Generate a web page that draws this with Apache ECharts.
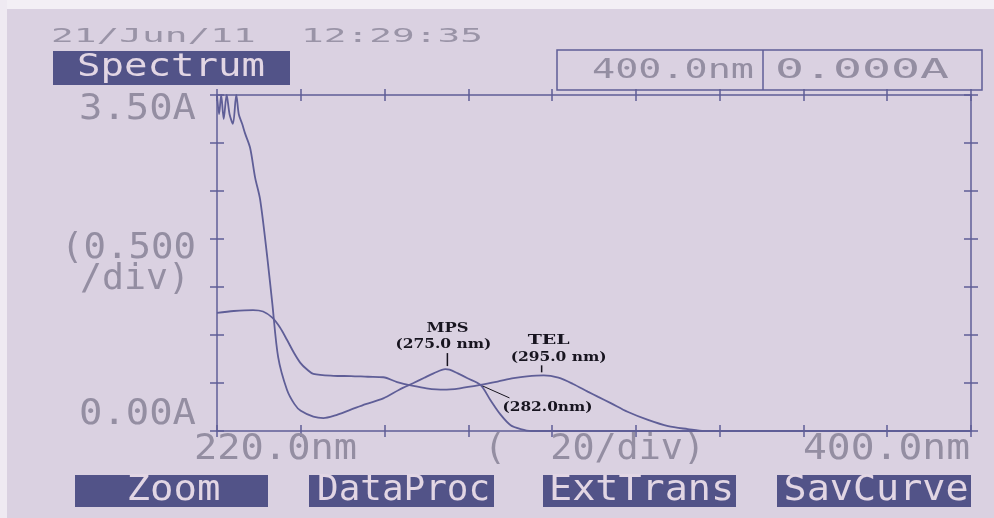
<!DOCTYPE html>
<html>
<head>
<meta charset="utf-8">
<title>Spectrum</title>
<script src="https://cdn.jsdelivr.net/npm/echarts@6/dist/echarts.min.js"></script>
<style>
html, body { margin: 0; padding: 0; background: #fff; }
#chart { width: 994px; height: 518px; }
</style>
</head>
<body>
<div id="chart"></div>
<script>
// overlay spectra (wavelength nm / absorbance A)
const mpsNm = [220, 220.5, 221, 221.6, 222.3, 223, 223.8, 224.6, 225.2, 226, 226.7, 227.9, 229.1, 230.3, 232.0, 233.2, 234.6, 236.7, 238.5, 240, 243, 245.4, 248, 251.8, 255.5, 259.7, 263.5, 266.9, 269.5, 271.7, 274.5, 275.5, 277.5, 279.8, 282.9, 285.3, 287.7, 290.1, 292.5, 295, 400];
const mpsAbs = [3.5, 3.3, 3.5, 3.25, 3.5, 3.3, 3.2, 3.5, 3.3, 3.2, 3.1, 2.95, 2.64, 2.41, 1.81, 1.33, 0.77, 0.43, 0.28, 0.21, 0.15, 0.135, 0.16, 0.22, 0.28, 0.34, 0.43, 0.5, 0.555, 0.6, 0.645, 0.64, 0.6, 0.55, 0.48, 0.32, 0.17, 0.06, 0.02, 0, 0];
const telNm = [220, 224, 228.6, 231, 233.2, 235, 236.7, 238.3, 239.9, 241.5, 243, 247.8, 252, 256, 259.7, 263, 266.9, 270, 274.1, 278, 282.9, 287, 290.8, 294, 298, 301.5, 305, 308.5, 311, 314, 318, 322.9, 327.7, 332.4, 336.3, 400];
const telAbs = [1.23, 1.25, 1.26, 1.245, 1.18, 1.08, 0.95, 0.82, 0.71, 0.64, 0.595, 0.575, 0.572, 0.565, 0.56, 0.51, 0.47, 0.445, 0.43, 0.445, 0.48, 0.515, 0.55, 0.57, 0.58, 0.555, 0.49, 0.41, 0.355, 0.29, 0.2, 0.115, 0.05, 0.02, 0, 0];

// printer texts
const stamp = '21/Jun/11  12:29:35';
const modeName = 'Spectrum';
const readout = ['400.0nm', '0.000A'];
const yTickLabels = ['3.50A', '(0.500', '/div)', '0.00A'];
const xTickLabels = ['220.0nm', '(  20/div)', '400.0nm'];
const menuKeys = ['Zoom', 'DataProc', 'ExtTrans', 'SavCurve'];

// peak / crossing notes
const noteNames = ['MPS', 'TEL'];
const noteTexts = ['(275.0 nm)', '(295.0 nm)'];
const notePeakNm = [275, 297.5];
const notePeakAbs = [0.645, 0.58];
const crossText = '(282.0nm)';
const crossAt = [282.9, 0.48];

const ink = '#5f5e97';
const dotInk = '#948ea2';
const boxInk = '#525388';
const boxText = '#e2d6e4';
const paper = '#dad1e1';
const mono = 'DejaVu Sans Mono';
const serif = 'DejaVu Serif';

const mctx = document.createElement('canvas').getContext('2d');
// text stretched to the width it has on the printout
function label(str, x, y, width, size, opt) {
	opt = opt || {};
	let weight = opt.weight || 'normal';
	let family = opt.family || mono;
	mctx.font = weight + ' ' + size + 'px "' + family + '"';
	let sx = width ? width / mctx.measureText(str).width : 1;
	return {
		type: 'text', x: x, y: y, scaleX: sx, silent: true, z: 10,
		style: {
			text: str, x: 0, y: 0, fill: opt.color || dotInk,
			fontSize: size, fontFamily: family, fontWeight: weight,
			align: opt.align || 'left', verticalAlign: 'middle'
		}
	};
}

function xAx(pos, inside, line) {
	return {
		type: 'value', position: pos, min: 220, max: 400, interval: 20,
		axisLine: { show: line, onZero: false, lineStyle: { color: ink, width: 1.5 } },
		axisTick: { show: true, inside: inside, length: 6, lineStyle: { color: ink, width: 1.5 } },
		axisLabel: { show: false }, splitLine: { show: false }
	};
}
function yAx(pos, inside, line) {
	return {
		type: 'value', position: pos, min: 0, max: 3.5, interval: 0.5,
		axisLine: { show: line, onZero: false, lineStyle: { color: ink, width: 1.5 } },
		axisTick: { show: true, inside: inside, length: 7, lineStyle: { color: ink, width: 1.5 } },
		axisLabel: { show: false }, splitLine: { show: false }
	};
}

let chrome = [
	{ type: 'rect', shape: { x: 0, y: 0, width: 994, height: 9 }, style: { fill: '#f3eff5' }, silent: true },
	{ type: 'rect', shape: { x: 0, y: 0, width: 7, height: 518 }, style: { fill: '#efeaf2' }, silent: true },
	label(stamp, 51, 37, 432, 19, { color: '#9a94a7' }),
	{ type: 'rect', shape: { x: 53, y: 51, width: 237, height: 34 }, style: { fill: boxInk }, silent: true },
	label(modeName, 77, 68, 188, 32, { color: boxText }),
	{ type: 'rect', shape: { x: 557, y: 50, width: 425, height: 40 }, style: { fill: 'none', stroke: ink, lineWidth: 1.5 }, silent: true },
	{ type: 'line', shape: { x1: 763, y1: 50, x2: 763, y2: 90 }, style: { stroke: ink, lineWidth: 1.5 }, silent: true },
	label(readout[0], 592, 71, 162, 27),
	label(readout[1], 775, 71, 174, 27),
	label(yTickLabels[0], 196, 110, 117, 36, { align: 'right' }),
	label(yTickLabels[1], 196, 249, 135, 36, { align: 'right' }),
	label(yTickLabels[2], 190, 280, 110, 36, { align: 'right' }),
	label(yTickLabels[3], 196, 415, 117, 36, { align: 'right' }),
	label(xTickLabels[0], 194, 450, 163, 36),
	label(xTickLabels[1], 705, 450, 221, 36, { align: 'right' }),
	label(xTickLabels[2], 970, 450, 167, 36, { align: 'right' })
];

const menuBox = [[75, 193], [309, 185], [543, 193], [777, 194]];
const menuTextW = [94, 173, 185, 185];
menuKeys.forEach(function (k, i) {
	let b = menuBox[i];
	chrome.push({ type: 'rect', shape: { x: b[0], y: 475, width: b[1], height: 32 }, style: { fill: boxInk }, silent: true });
	chrome.push(label(k, b[0] + b[1] / 2 + 2, 491, menuTextW[i], 36, { color: boxText, align: 'center' }));
});

let chart = echarts.init(document.getElementById('chart'));
let option = {
	animation: false,
	backgroundColor: paper,
	grid: { left: 217, right: 23, top: 95, bottom: 87 },
	xAxis: [xAx('bottom', false, true), xAx('bottom', true, false), xAx('top', false, true), xAx('top', true, false)],
	yAxis: [yAx('left', false, true), yAx('left', true, false), yAx('right', false, true), yAx('right', true, false)],
	series: [{
		name: 'MPS', type: 'line', smooth: 0.3, symbol: 'none', clip: true,
		lineStyle: { color: ink, width: 1.8 },
		data: mpsNm.map(function (w, i) { return [w, mpsAbs[i]]; })
	}, {
		name: 'TEL', type: 'line', smooth: 0.3, symbol: 'none', clip: true,
		lineStyle: { color: ink, width: 1.8 },
		data: telNm.map(function (w, i) { return [w, telAbs[i]]; })
	}],
	graphic: chrome
};
chart.setOption(option);

// notes placed from the data positions
const noteInk = '#17141f';
const noteDx = [[0, -4], [7, 17]];
const noteDy = [[-40, -24, -16], [-35, -18, -10]];
noteNames.forEach(function (n, i) {
	let p = chart.convertToPixel({ gridIndex: 0 }, [notePeakNm[i], notePeakAbs[i]]);
	chrome.push(label(n, p[0] + noteDx[i][0], p[1] + noteDy[i][0], n.length * 14, 13, { family: serif, weight: 'bold', color: noteInk, align: 'center' }));
	chrome.push(label(noteTexts[i], p[0] + noteDx[i][1], p[1] + noteDy[i][1], 96, 13, { family: serif, weight: 'bold', color: noteInk, align: 'center' }));
	chrome.push({ type: 'line', z: 10, silent: true, shape: { x1: p[0], y1: p[1] + noteDy[i][2], x2: p[0], y2: p[1] - 3 }, style: { stroke: noteInk, lineWidth: 1.5 } });
});
let c = chart.convertToPixel({ gridIndex: 0 }, crossAt);
chrome.push({ type: 'line', z: 10, silent: true, shape: { x1: c[0] + 2, y1: c[1] + 1, x2: c[0] + 29, y2: c[1] + 13 }, style: { stroke: noteInk, lineWidth: 1 } });
chrome.push(label(crossText, c[0] + 67, c[1] + 23, 90, 13, { family: serif, weight: 'bold', color: noteInk, align: 'center' }));
chart.setOption({ graphic: chrome });
</script>
</body>
</html>
